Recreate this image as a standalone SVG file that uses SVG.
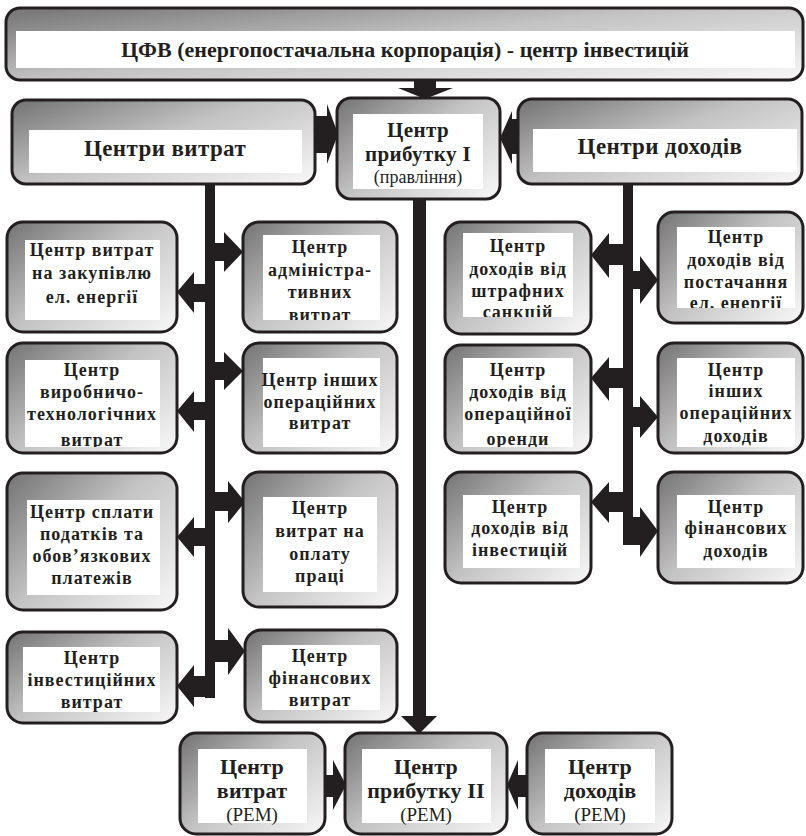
<svg xmlns="http://www.w3.org/2000/svg" width="806" height="836" viewBox="0 0 806 836">
<defs>
<linearGradient id="g" x1="0" y1="0.1" x2="1" y2="0.9">
<stop offset="0" stop-color="#7a7a7a"/>
<stop offset="0.45" stop-color="#c2c2c2"/>
<stop offset="1" stop-color="#f4f4f4"/>
</linearGradient>
<clipPath id="cb1"><rect x="263" y="235" width="117" height="85"/></clipPath>
<clipPath id="ca2"><rect x="25" y="360" width="135" height="87"/></clipPath>
<clipPath id="cc1"><rect x="463" y="233" width="110" height="84"/></clipPath>
<clipPath id="cd1"><rect x="677" y="227" width="118" height="81"/></clipPath>
<clipPath id="cc2"><rect x="463" y="358" width="110" height="89"/></clipPath>
<style>
.box{fill:url(#g);stroke:#231f20;stroke-width:3}
.in{fill:#fff}
.t{font-family:"Liberation Serif","Times New Roman",serif;font-weight:bold;font-size:18px;text-anchor:middle;fill:#231f20;letter-spacing:1px}
.big{font-size:23px;letter-spacing:0.4px}
.mid{font-size:22px;letter-spacing:0.2px}
.c1{font-size:21px;letter-spacing:0.4px}
.top{font-size:22px;letter-spacing:0}
.r{font-weight:normal;letter-spacing:0;font-size:18px}
.rb{font-weight:normal;letter-spacing:0;font-size:19px}
.arr{fill:#231f20}
</style>
</defs>
<rect width="806" height="836" fill="#fff"/>

<g id="connectors" class="arr">
<polygon points="414,79 436,79 436,88 453,88 425,99 398,88 414,88"/>
<polygon points="314,116 327,116 327,104 338,134 327,164 327,153 314,153"/>
<polygon points="520,119 512,119 512,111 500,138 512,164 512,154 520,154"/>
<rect x="205" y="182" width="10" height="516"/>
<rect x="623" y="183" width="10" height="362"/>
<polygon points="413,198 426,198 426,716 437,716 419,734 401,716 413,716"/>
<polygon points="206,284 194,284 194,272 177,292 194,313 194,302 206,302"/>
<polygon points="206,402 194,402 194,391 177,411 194,432 194,420 206,420"/>
<polygon points="206,528 194,528 194,517 177,537 194,557 194,546 206,546"/>
<polygon points="206,676 194,676 194,665 177,686 194,707 194,697 206,697"/>
<polygon points="214,243 224,243 224,232 243,252 224,272 224,261 214,261"/>
<polygon points="214,362 224,362 224,352 243,371 224,390 224,380 214,380"/>
<polygon points="214,492 228,492 228,481 245,502 228,523 228,511 214,511"/>
<polygon points="214,640 228,640 228,628 245,651 228,675 228,662 214,662"/>
<polygon points="624,244 609,244 609,233 591,255 609,278 609,265 624,265"/>
<polygon points="624,368 609,368 609,357 591,378 609,401 609,388 624,388"/>
<polygon points="624,492 609,492 609,482 591,502 609,523 609,512 624,512"/>
<polygon points="632,271 640,271 640,256 658,280 640,304 640,289 632,289"/>
<polygon points="632,407 640,407 640,396 658,417 640,438 640,427 632,427"/>
<polygon points="623,517 640,517 640,507 658,531 640,557 640,545 623,545"/>
<polygon points="324,775 333,775 333,760 346,785 333,810 333,797 324,797"/>
<polygon points="528,775 518,775 518,760 507,785 518,810 518,797 528,797"/>
</g>

<g id="n-cfv">
<rect class="box" x="6" y="8" width="797" height="72" rx="14"/>
<rect class="in" x="16" y="31" width="779" height="37"/>
<text class="t top" x="405" y="57">ЦФВ (енергопостачальна корпорація) - центр інвестицій</text>
</g>

<g id="n-costs">
<rect class="box" x="12" y="100" width="303" height="84" rx="14"/>
<rect class="in" x="29" y="130" width="273" height="43"/>
<text class="t big" x="165" y="156">Центри витрат</text>
</g>

<g id="n-profit1">
<rect class="box" x="337" y="98" width="163" height="101" rx="14"/>
<rect class="in" x="353" y="114" width="130" height="75"/>
<text class="t c1" x="418" y="137">Центр</text>
<text class="t c1" x="418" y="161">прибутку I</text>
<text class="t r" x="418" y="183">(правління)</text>
</g>

<g id="n-income">
<rect class="box" x="518" y="99" width="284" height="85" rx="14"/>
<rect class="in" x="533" y="129" width="264" height="43"/>
<text class="t big" x="660" y="154">Центри доходів</text>
</g>

<g id="n-a1">
<rect class="box" x="7" y="222" width="170" height="110" rx="16"/>
<rect class="in" x="25" y="240" width="135" height="80"/>
<text class="t" x="92" y="256">Центр витрат</text>
<text class="t" x="92" y="279">на закупівлю</text>
<text class="t" x="92" y="303">ел. енергії</text>
</g>

<g id="n-a2">
<rect class="box" x="7" y="343" width="170" height="110" rx="16"/>
<rect class="in" x="25" y="360" width="135" height="87"/>
<g clip-path="url(#ca2)">
<text class="t" x="92" y="376">Центр</text>
<text class="t" x="92" y="398">виробничо-</text>
<text class="t" x="92" y="420">технологічних</text>
<text class="t" x="92" y="446">витрат</text>
</g>
</g>

<g id="n-a3">
<rect class="box" x="7" y="473" width="170" height="137" rx="16"/>
<rect class="in" x="27" y="500" width="133" height="95"/>
<text class="t" x="92" y="518">Центр сплати</text>
<text class="t" x="92" y="540">податків та</text>
<text class="t" x="92" y="562">обов’язкових</text>
<text class="t" x="92" y="584">платежів</text>
</g>

<g id="n-a4">
<rect class="box" x="7" y="632" width="170" height="91" rx="16"/>
<rect class="in" x="23" y="647" width="137" height="65"/>
<text class="t" x="92" y="664">Центр</text>
<text class="t" x="92" y="686">інвестиційних</text>
<text class="t" x="92" y="708">витрат</text>
</g>

<g id="n-b1">
<rect class="box" x="243" y="222" width="154" height="110" rx="16"/>
<rect class="in" x="263" y="235" width="117" height="85"/>
<g clip-path="url(#cb1)">
<text class="t" x="320" y="253">Центр</text>
<text class="t" x="320" y="276">адміністра-</text>
<text class="t" x="320" y="298">тивних</text>
<text class="t" x="320" y="321">витрат</text>
</g>
</g>

<g id="n-b2">
<rect class="box" x="243" y="343" width="154" height="110" rx="16"/>
<rect class="in" x="263" y="358" width="117" height="89"/>
<text class="t" x="320" y="386">Центр інших</text>
<text class="t" x="320" y="408">операційних</text>
<text class="t" x="320" y="429">витрат</text>
</g>

<g id="n-b3">
<rect class="box" x="243" y="472" width="154" height="135" rx="16"/>
<rect class="in" x="263" y="497" width="114" height="95"/>
<text class="t" x="320" y="514">Центр</text>
<text class="t" x="320" y="537">витрат на</text>
<text class="t" x="320" y="560">оплату</text>
<text class="t" x="320" y="582">праці</text>
</g>

<g id="n-b4">
<rect class="box" x="245" y="630" width="152" height="92" rx="16"/>
<rect class="in" x="262" y="645" width="118" height="65"/>
<text class="t" x="320" y="662">Центр</text>
<text class="t" x="320" y="684">фінансових</text>
<text class="t" x="320" y="706">витрат</text>
</g>

<g id="n-c1">
<rect class="box" x="445" y="222" width="146" height="112" rx="16"/>
<rect class="in" x="463" y="233" width="110" height="84"/>
<g clip-path="url(#cc1)">
<text class="t" x="518" y="252">Центр</text>
<text class="t" x="518" y="275">доходів від</text>
<text class="t" x="518" y="297">штрафних</text>
<text class="t" x="518" y="318">санкцій</text>
</g>
</g>

<g id="n-c2">
<rect class="box" x="445" y="345" width="146" height="108" rx="16"/>
<rect class="in" x="463" y="358" width="110" height="89"/>
<g clip-path="url(#cc2)">
<text class="t" x="518" y="376">Центр</text>
<text class="t" x="518" y="398">доходів від</text>
<text class="t" x="518" y="420">операційної</text>
<text class="t" x="518" y="445">оренди</text>
</g>
</g>

<g id="n-c3">
<rect class="box" x="445" y="472" width="146" height="111" rx="16"/>
<rect class="in" x="463" y="495" width="117" height="73"/>
<text class="t" x="520" y="513">Центр</text>
<text class="t" x="520" y="534">доходів від</text>
<text class="t" x="520" y="556">інвестицій</text>
</g>

<g id="n-d1">
<rect class="box" x="658" y="212" width="145" height="111" rx="16"/>
<rect class="in" x="677" y="227" width="118" height="81"/>
<g clip-path="url(#cd1)">
<text class="t" x="736" y="243">Центр</text>
<text class="t" x="736" y="266">доходів від</text>
<text class="t" x="736" y="288">постачання</text>
<text class="t" x="736" y="309">ел. енергії</text>
</g>
</g>

<g id="n-d2">
<rect class="box" x="658" y="343" width="145" height="110" rx="16"/>
<rect class="in" x="677" y="358" width="118" height="89"/>
<text class="t" x="736" y="376">Центр</text>
<text class="t" x="736" y="397">інших</text>
<text class="t" x="736" y="419">операційних</text>
<text class="t" x="736" y="442">доходів</text>
</g>

<g id="n-d3">
<rect class="box" x="658" y="472" width="145" height="111" rx="16"/>
<rect class="in" x="677" y="495" width="118" height="73"/>
<text class="t" x="736" y="513">Центр</text>
<text class="t" x="736" y="534">фінансових</text>
<text class="t" x="736" y="557">доходів</text>
</g>

<g id="n-e1">
<rect class="box" x="180" y="733" width="145" height="101" rx="16"/>
<rect class="in" x="198" y="749" width="109" height="74"/>
<text class="t mid" x="252" y="774">Центр</text>
<text class="t mid" x="252" y="798">витрат</text>
<text class="t rb" x="252" y="821">(РЕМ)</text>
</g>

<g id="n-e2">
<rect class="box" x="345" y="733" width="162" height="101" rx="16"/>
<rect class="in" x="362" y="749" width="129" height="74"/>
<text class="t mid" x="426" y="774">Центр</text>
<text class="t mid" x="426" y="798">прибутку II</text>
<text class="t rb" x="426" y="821">(РЕМ)</text>
</g>

<g id="n-e3">
<rect class="box" x="527" y="733" width="145" height="101" rx="16"/>
<rect class="in" x="545" y="749" width="110" height="74"/>
<text class="t mid" x="600" y="774">Центр</text>
<text class="t mid" x="600" y="798">доходів</text>
<text class="t rb" x="600" y="821">(РЕМ)</text>
</g>
</svg>
